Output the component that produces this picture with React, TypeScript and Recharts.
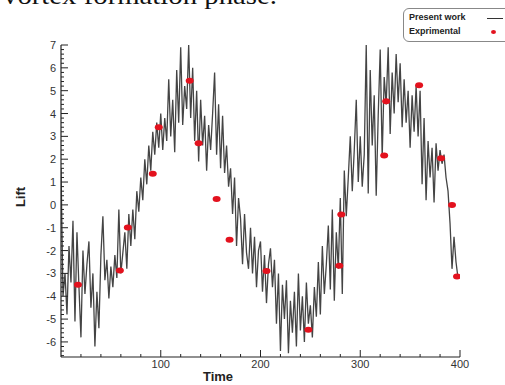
import React from 'react'
import { ComposedChart, Line, Scatter, XAxis, YAxis } from 'recharts'

// シミュレーション結果（Time = 0..398, 2刻み）
const presentTime: number[] = Array.from({ length: 200 }, (_, i) => i * 2)
const presentLift: number[] = [
  1.6, -4.0, -3.0, -4.8, -1.8, -3.4, -0.7, -5.1, -1.2, -3.6,
  -5.8, -2.0, -3.9, -2.6, -1.6, -4.5, -3.0, -6.2, -3.8, -5.4,
  -2.2, -0.5, -3.3, -2.4, -4.1, -2.7, -3.6, -2.2, -3.2, -0.2,
  -3.0, -2.1, -1.2, -2.8, -0.4, -1.8, -0.2, -1.5, 0.6, -0.3,
  1.2, 0.2, 2.0, 0.9, 2.6, 1.5, 3.2, 2.2, 3.6, 2.5,
  4.0, 2.4, 3.8, 2.8, 5.5, 3.0, 4.6, 2.3, 5.9, 3.6,
  6.9, 3.5, 5.2, 4.2, 7.0, 3.8, 6.0, 2.8, 5.0, 1.9,
  4.6, 2.6, 3.9, 1.5, 3.5, 2.4, 4.0, 5.8, 2.2, 4.4,
  1.6, 3.9, 1.4, 2.6, 0.8, 1.6, -0.4, 1.2, -1.8, 0.3,
  -0.6, -2.6, -0.4, -2.1, -2.8, -1.0, -3.0, -1.4, -3.6, -2.0,
  -1.6, -3.8, -2.2, -4.3, -2.6, -1.9, -3.6, -2.4, -5.2, -3.0,
  -6.4, -3.5, -5.0, -3.3, -6.5, -4.2, -5.6, -3.8, -6.2, -3.0,
  -5.5, -4.0, -6.0, -3.4, -5.2, -4.4, -5.8, -3.6, -4.9, -2.5,
  -4.8, -1.8, -3.9, -2.6, -0.9, -3.7, -0.2, -4.2, -1.2, -2.8,
  0.3, -3.9, 1.5, -0.5, 1.2, 3.0, 0.6, 2.4, 4.6, 1.0,
  3.0, 0.8, 2.2, 7.0, 0.5, 5.9, 2.6, 4.8, 0.4, 3.9,
  6.8, 2.1, 5.6, 4.4, 6.9, 3.1, 5.8, 4.0, 6.6, 4.5,
  6.2, 3.4, 5.5, 3.6, 5.0, 2.5, 4.8, 3.2, 5.2, 3.0,
  5.0, 0.9, 3.8, 0.2, 2.8, 1.2, 2.5, 0.1, 2.7, 1.5,
  2.4, 1.8, 2.2, 1.2, 0.6, -0.8, -2.8, -1.4, -2.5, -3.2,
]

// 実験値
const expTime: number[] = [17, 59, 67, 92, 98, 129, 138, 156, 169, 206, 248, 279, 281, 324, 326, 359, 381, 392, 397]
const expLift: number[] = [-3.5, -2.87, -0.99, 1.36, 3.4, 5.43, 2.7, 0.26, -1.53, -2.89, -5.47, -2.67, -0.42, 2.16, 4.54, 5.24, 2.04, 0.0, -3.14]

// 目盛り
const xMajor: number[] = [100, 200, 300, 400]
const xTicks: number[] = Array.from({ length: 20 }, (_, i) => 20 + i * 20)
const yMajor: number[] = [-6, -5, -4, -3, -2, -1, 0, 1, 2, 3, 4, 5, 6, 7]
const yTicks: number[] = Array.from({ length: 69 }, (_, i) => (i - 33) / 5)

const lineData = presentTime.map((t, i) => ({ t, v: presentLift[i] }))
const expData = expTime.map((t, i) => ({ t, v: expLift[i] }))

const labelFont = 'Arial, "Liberation Sans", sans-serif'

const XTick = (props: any) => {
  const { x, y, payload } = props
  const major = xMajor.includes(payload.value)
  return (
    <g>
      <line x1={x} x2={x} y1={y} y2={y - (major ? 7 : 3)} stroke="#222" strokeWidth={1} />
      {major && (
        <text x={x} y={y + 11} textAnchor="middle" fontSize={11} fill="#333" fontFamily={labelFont}>
          {payload.value}
        </text>
      )}
    </g>
  )
}

const YTick = (props: any) => {
  const { x, y, payload } = props
  const v = Math.round(payload.value * 5) / 5
  const major = Math.abs(v - Math.round(v)) < 0.01 && yMajor.includes(Math.round(v))
  return (
    <g>
      <line x1={x} x2={x + (major ? 7 : 3)} y1={y} y2={y} stroke="#222" strokeWidth={1} />
      {major && (
        <text x={x - 5} y={y + 4} textAnchor="end" fontSize={11} fill="#333" fontFamily={labelFont}>
          {Math.round(v)}
        </text>
      )}
    </g>
  )
}

const RedDot = (props: any) => {
  const { cx, cy } = props
  return <ellipse cx={cx} cy={cy} rx={4} ry={3} fill="#e3121e" />
}

export default function App() {
  return (
    <div style={{ position: 'absolute', left: 0, top: 0, width: 505, height: 385, overflow: 'hidden', background: '#fff' }}>
      {/* 上部の本文の切れ端 */}
      <svg width={505} height={14} style={{ position: 'absolute', left: 0, top: 0 }}>
        <text x={3} y={4} fontSize={25} fontFamily='"Liberation Serif", "DejaVu Serif", serif' fill="#111" textLength={274} lengthAdjust="spacingAndGlyphs">
          vortex formation phase.
        </text>
      </svg>

      <ComposedChart width={505} height={385} margin={{ top: 45, right: 45, bottom: 0, left: 0 }}>
        <XAxis
          type="number"
          dataKey="t"
          domain={[0, 400]}
          ticks={xTicks}
          interval={0}
          height={28}
          tickSize={0}
          tickMargin={0}
          tickLine={false}
          tick={<XTick />}
          axisLine={{ stroke: '#222', strokeWidth: 1.2 }}
          allowDataOverflow
        />
        <YAxis
          type="number"
          dataKey="v"
          domain={[-6.66, 7]}
          ticks={yTicks}
          interval={0}
          width={61}
          tickSize={0}
          tickMargin={0}
          tickLine={false}
          tick={<YTick />}
          axisLine={{ stroke: '#222', strokeWidth: 1.2 }}
          allowDataOverflow
        />
        <Line
          data={lineData}
          dataKey="v"
          type="linear"
          stroke="#444"
          strokeWidth={1.3}
          dot={false}
          isAnimationActive={false}
        />
        <Scatter data={expData} dataKey="v" shape={<RedDot />} isAnimationActive={false} />
      </ComposedChart>

      {/* 軸タイトル */}
      <div style={{ position: 'absolute', left: 0, top: 369, width: 436, textAlign: 'center', fontFamily: labelFont, fontWeight: 'bold', fontSize: 13, color: '#222' }}>
        Time
      </div>
      <div style={{ position: 'absolute', left: 20, top: 197, transform: 'translate(-50%, -50%) rotate(-90deg)', fontFamily: labelFont, fontWeight: 'bold', fontSize: 13, color: '#222' }}>
        Lift
      </div>

      {/* 凡例 */}
      <div style={{ position: 'absolute', left: 403, top: 8, width: 110, height: 32, border: '1px solid #888', borderRadius: 6, background: '#fff', fontFamily: labelFont, fontWeight: 'bold', fontSize: 9, color: '#222' }}>
        <div style={{ position: 'absolute', left: 5, top: 3 }}>Present work</div>
        <div style={{ position: 'absolute', left: 83, top: 9, width: 16, borderTop: '1px solid #333' }} />
        <div style={{ position: 'absolute', left: 5, top: 17 }}>Exprimental</div>
        <div style={{ position: 'absolute', left: 87, top: 21, width: 5, height: 4, borderRadius: '50%', background: '#e3121e' }} />
      </div>
    </div>
  )
}
